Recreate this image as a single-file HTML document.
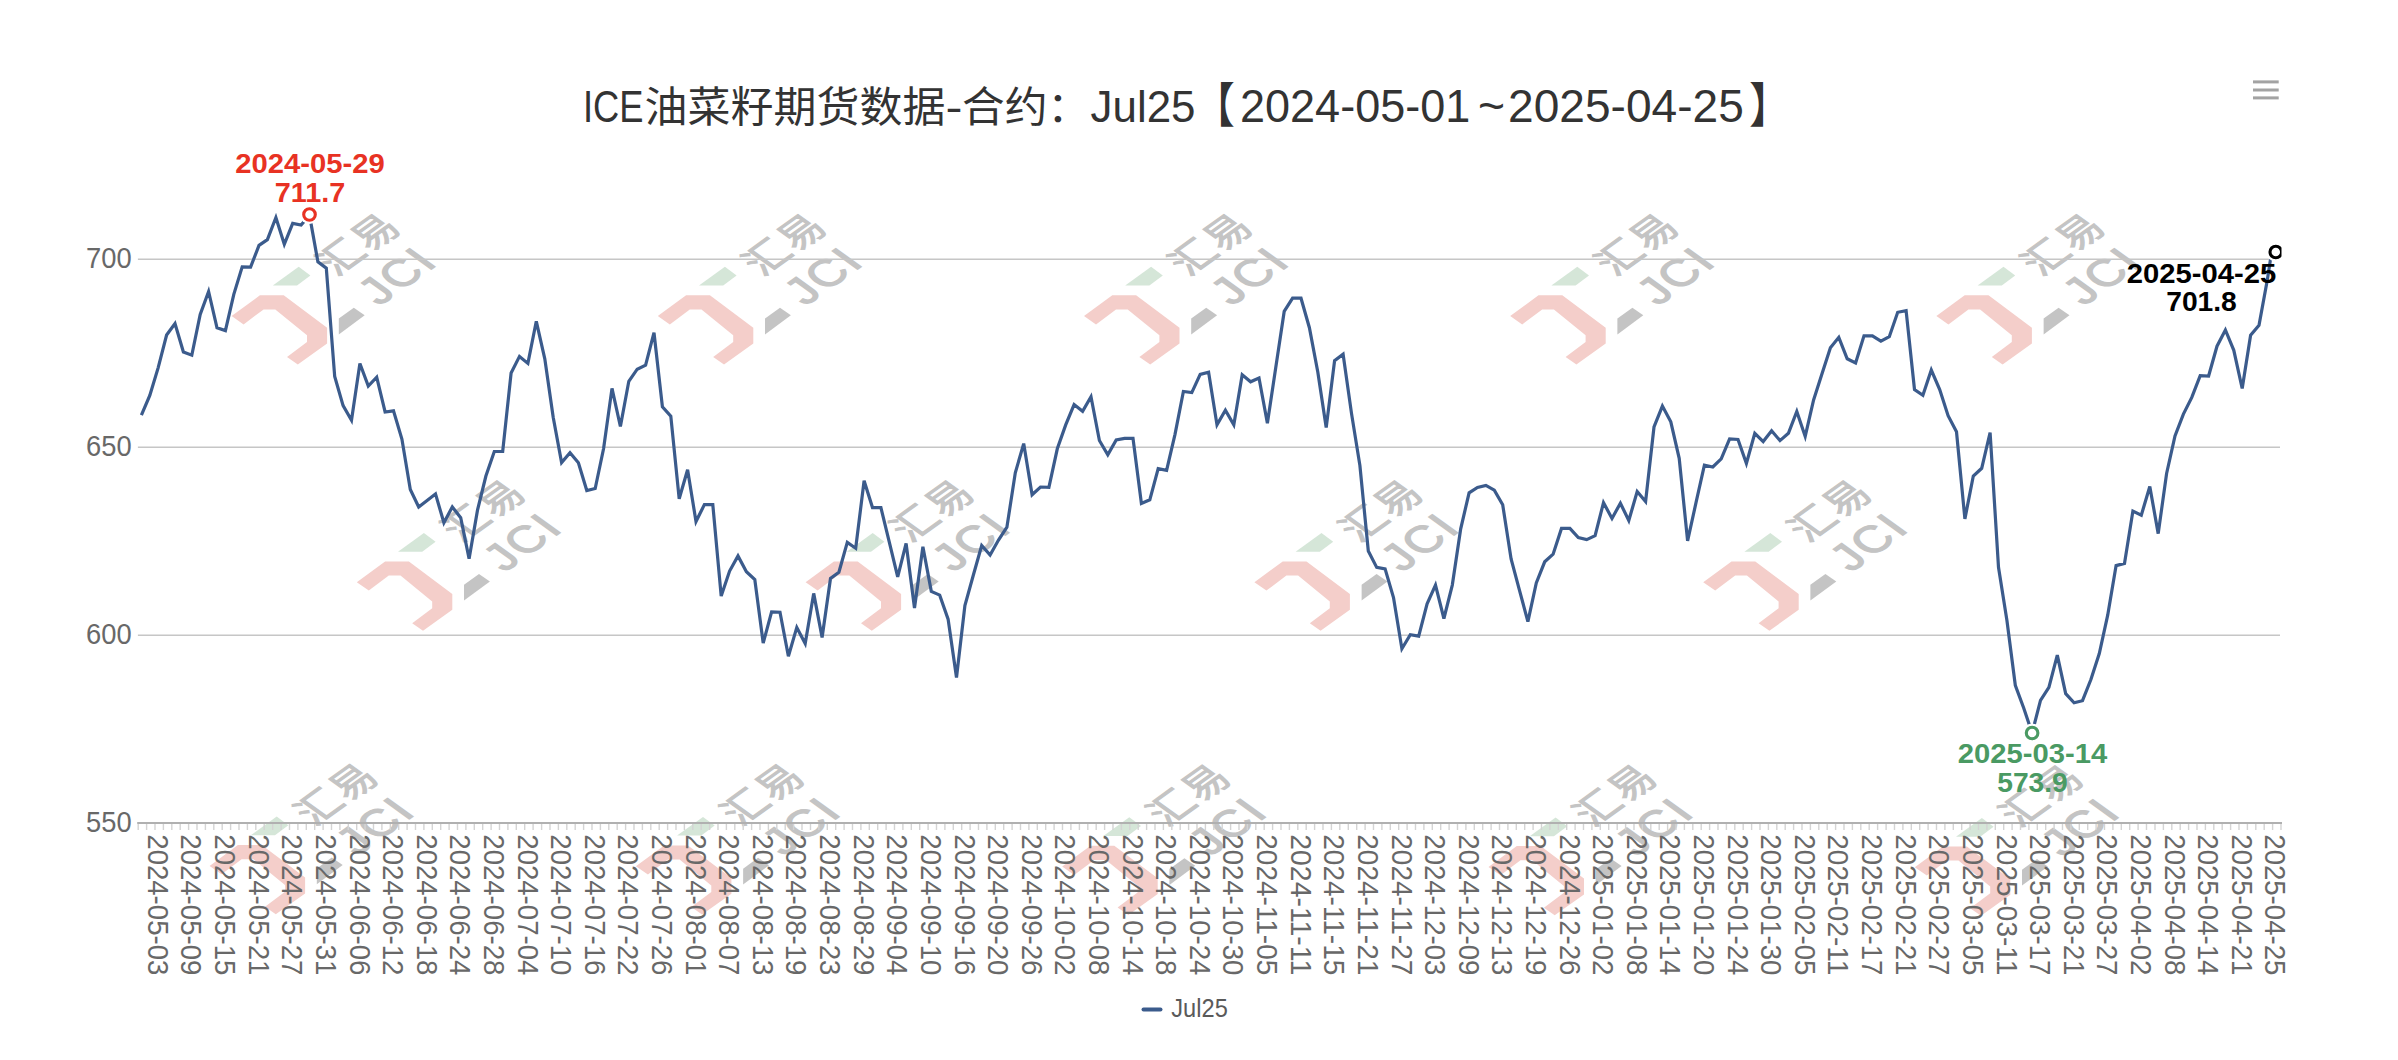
<!DOCTYPE html>
<html lang="zh"><head><meta charset="utf-8"><title>ICE油菜籽期货数据</title>
<style>html,body{margin:0;padding:0;background:#fff;}body{width:2398px;height:1060px;overflow:hidden;}svg{display:block;}text{font-family:"Liberation Sans","Noto Sans CJK SC",sans-serif;}.ax{font-size:29px;fill:#686868;}.dl{font-size:28.4px;font-weight:bold;}.wm{font-family:"Liberation Sans","Noto Sans CJK SC",sans-serif;fill:#c4c4c4;}</style></head><body>
<svg width="2398" height="1060" viewBox="0 0 2398 1060">
<rect x="0" y="0" width="2398" height="1060" fill="#ffffff"/>
<g id="watermarks">
<g transform="translate(232.0,316.0)"><polygon points="-0.4,0.1 27.9,-20.7 51.7,-20.7 95.1,11.8 95.1,27.6 65.8,48.5 55.0,41.0 75.0,26.0 75.0,19.3 43.3,-6.6 31.6,-6.6 11.6,8.4" fill="#f4ceca"/><polygon points="40.8,-30.5 66.7,-49.2 78.4,-40.5 65.0,-30.5" fill="#d5e6d8"/><polygon points="106.8,2.6 121.8,-8.3 132.7,-0.8 106.8,18.4" fill="#c4c4c4"/><text class="wm" font-size="46" text-anchor="middle" stroke="#c4c4c4" stroke-width="1.2" transform="translate(127.1,-71.9) scale(1,0.72) rotate(-45)" x="0" y="16" letter-spacing="2.5">汇易</text><text class="wm" font-size="52" stroke="#c4c4c4" stroke-width="1.6" text-anchor="middle" transform="translate(164.6,-40.7) scale(1,0.72) rotate(-45)" x="0" y="18.6" letter-spacing="2.5">JCI</text></g>
<g transform="translate(658.2,316.0)"><polygon points="-0.4,0.1 27.9,-20.7 51.7,-20.7 95.1,11.8 95.1,27.6 65.8,48.5 55.0,41.0 75.0,26.0 75.0,19.3 43.3,-6.6 31.6,-6.6 11.6,8.4" fill="#f4ceca"/><polygon points="40.8,-30.5 66.7,-49.2 78.4,-40.5 65.0,-30.5" fill="#d5e6d8"/><polygon points="106.8,2.6 121.8,-8.3 132.7,-0.8 106.8,18.4" fill="#c4c4c4"/><text class="wm" font-size="46" text-anchor="middle" stroke="#c4c4c4" stroke-width="1.2" transform="translate(127.1,-71.9) scale(1,0.72) rotate(-45)" x="0" y="16" letter-spacing="2.5">汇易</text><text class="wm" font-size="52" stroke="#c4c4c4" stroke-width="1.6" text-anchor="middle" transform="translate(164.6,-40.7) scale(1,0.72) rotate(-45)" x="0" y="18.6" letter-spacing="2.5">JCI</text></g>
<g transform="translate(1084.4,316.0)"><polygon points="-0.4,0.1 27.9,-20.7 51.7,-20.7 95.1,11.8 95.1,27.6 65.8,48.5 55.0,41.0 75.0,26.0 75.0,19.3 43.3,-6.6 31.6,-6.6 11.6,8.4" fill="#f4ceca"/><polygon points="40.8,-30.5 66.7,-49.2 78.4,-40.5 65.0,-30.5" fill="#d5e6d8"/><polygon points="106.8,2.6 121.8,-8.3 132.7,-0.8 106.8,18.4" fill="#c4c4c4"/><text class="wm" font-size="46" text-anchor="middle" stroke="#c4c4c4" stroke-width="1.2" transform="translate(127.1,-71.9) scale(1,0.72) rotate(-45)" x="0" y="16" letter-spacing="2.5">汇易</text><text class="wm" font-size="52" stroke="#c4c4c4" stroke-width="1.6" text-anchor="middle" transform="translate(164.6,-40.7) scale(1,0.72) rotate(-45)" x="0" y="18.6" letter-spacing="2.5">JCI</text></g>
<g transform="translate(1510.6,316.0)"><polygon points="-0.4,0.1 27.9,-20.7 51.7,-20.7 95.1,11.8 95.1,27.6 65.8,48.5 55.0,41.0 75.0,26.0 75.0,19.3 43.3,-6.6 31.6,-6.6 11.6,8.4" fill="#f4ceca"/><polygon points="40.8,-30.5 66.7,-49.2 78.4,-40.5 65.0,-30.5" fill="#d5e6d8"/><polygon points="106.8,2.6 121.8,-8.3 132.7,-0.8 106.8,18.4" fill="#c4c4c4"/><text class="wm" font-size="46" text-anchor="middle" stroke="#c4c4c4" stroke-width="1.2" transform="translate(127.1,-71.9) scale(1,0.72) rotate(-45)" x="0" y="16" letter-spacing="2.5">汇易</text><text class="wm" font-size="52" stroke="#c4c4c4" stroke-width="1.6" text-anchor="middle" transform="translate(164.6,-40.7) scale(1,0.72) rotate(-45)" x="0" y="18.6" letter-spacing="2.5">JCI</text></g>
<g transform="translate(1936.8,316.0)"><polygon points="-0.4,0.1 27.9,-20.7 51.7,-20.7 95.1,11.8 95.1,27.6 65.8,48.5 55.0,41.0 75.0,26.0 75.0,19.3 43.3,-6.6 31.6,-6.6 11.6,8.4" fill="#f4ceca"/><polygon points="40.8,-30.5 66.7,-49.2 78.4,-40.5 65.0,-30.5" fill="#d5e6d8"/><polygon points="106.8,2.6 121.8,-8.3 132.7,-0.8 106.8,18.4" fill="#c4c4c4"/><text class="wm" font-size="46" text-anchor="middle" stroke="#c4c4c4" stroke-width="1.2" transform="translate(127.1,-71.9) scale(1,0.72) rotate(-45)" x="0" y="16" letter-spacing="2.5">汇易</text><text class="wm" font-size="52" stroke="#c4c4c4" stroke-width="1.6" text-anchor="middle" transform="translate(164.6,-40.7) scale(1,0.72) rotate(-45)" x="0" y="18.6" letter-spacing="2.5">JCI</text></g>
<g transform="translate(357.2,582.2)"><polygon points="-0.4,0.1 27.9,-20.7 51.7,-20.7 95.1,11.8 95.1,27.6 65.8,48.5 55.0,41.0 75.0,26.0 75.0,19.3 43.3,-6.6 31.6,-6.6 11.6,8.4" fill="#f4ceca"/><polygon points="40.8,-30.5 66.7,-49.2 78.4,-40.5 65.0,-30.5" fill="#d5e6d8"/><polygon points="106.8,2.6 121.8,-8.3 132.7,-0.8 106.8,18.4" fill="#c4c4c4"/><text class="wm" font-size="46" text-anchor="middle" stroke="#c4c4c4" stroke-width="1.2" transform="translate(127.1,-71.9) scale(1,0.72) rotate(-45)" x="0" y="16" letter-spacing="2.5">汇易</text><text class="wm" font-size="52" stroke="#c4c4c4" stroke-width="1.6" text-anchor="middle" transform="translate(164.6,-40.7) scale(1,0.72) rotate(-45)" x="0" y="18.6" letter-spacing="2.5">JCI</text></g>
<g transform="translate(806.0,582.2)"><polygon points="-0.4,0.1 27.9,-20.7 51.7,-20.7 95.1,11.8 95.1,27.6 65.8,48.5 55.0,41.0 75.0,26.0 75.0,19.3 43.3,-6.6 31.6,-6.6 11.6,8.4" fill="#f4ceca"/><polygon points="40.8,-30.5 66.7,-49.2 78.4,-40.5 65.0,-30.5" fill="#d5e6d8"/><polygon points="106.8,2.6 121.8,-8.3 132.7,-0.8 106.8,18.4" fill="#c4c4c4"/><text class="wm" font-size="46" text-anchor="middle" stroke="#c4c4c4" stroke-width="1.2" transform="translate(127.1,-71.9) scale(1,0.72) rotate(-45)" x="0" y="16" letter-spacing="2.5">汇易</text><text class="wm" font-size="52" stroke="#c4c4c4" stroke-width="1.6" text-anchor="middle" transform="translate(164.6,-40.7) scale(1,0.72) rotate(-45)" x="0" y="18.6" letter-spacing="2.5">JCI</text></g>
<g transform="translate(1254.8,582.2)"><polygon points="-0.4,0.1 27.9,-20.7 51.7,-20.7 95.1,11.8 95.1,27.6 65.8,48.5 55.0,41.0 75.0,26.0 75.0,19.3 43.3,-6.6 31.6,-6.6 11.6,8.4" fill="#f4ceca"/><polygon points="40.8,-30.5 66.7,-49.2 78.4,-40.5 65.0,-30.5" fill="#d5e6d8"/><polygon points="106.8,2.6 121.8,-8.3 132.7,-0.8 106.8,18.4" fill="#c4c4c4"/><text class="wm" font-size="46" text-anchor="middle" stroke="#c4c4c4" stroke-width="1.2" transform="translate(127.1,-71.9) scale(1,0.72) rotate(-45)" x="0" y="16" letter-spacing="2.5">汇易</text><text class="wm" font-size="52" stroke="#c4c4c4" stroke-width="1.6" text-anchor="middle" transform="translate(164.6,-40.7) scale(1,0.72) rotate(-45)" x="0" y="18.6" letter-spacing="2.5">JCI</text></g>
<g transform="translate(1703.6,582.2)"><polygon points="-0.4,0.1 27.9,-20.7 51.7,-20.7 95.1,11.8 95.1,27.6 65.8,48.5 55.0,41.0 75.0,26.0 75.0,19.3 43.3,-6.6 31.6,-6.6 11.6,8.4" fill="#f4ceca"/><polygon points="40.8,-30.5 66.7,-49.2 78.4,-40.5 65.0,-30.5" fill="#d5e6d8"/><polygon points="106.8,2.6 121.8,-8.3 132.7,-0.8 106.8,18.4" fill="#c4c4c4"/><text class="wm" font-size="46" text-anchor="middle" stroke="#c4c4c4" stroke-width="1.2" transform="translate(127.1,-71.9) scale(1,0.72) rotate(-45)" x="0" y="16" letter-spacing="2.5">汇易</text><text class="wm" font-size="52" stroke="#c4c4c4" stroke-width="1.6" text-anchor="middle" transform="translate(164.6,-40.7) scale(1,0.72) rotate(-45)" x="0" y="18.6" letter-spacing="2.5">JCI</text></g>
<g transform="translate(210.0,865.8)"><polygon points="-0.4,0.1 27.9,-20.7 51.7,-20.7 95.1,11.8 95.1,27.6 65.8,48.5 55.0,41.0 75.0,26.0 75.0,19.3 43.3,-6.6 31.6,-6.6 11.6,8.4" fill="#f4ceca"/><polygon points="40.8,-30.5 66.7,-49.2 78.4,-40.5 65.0,-30.5" fill="#d5e6d8"/><polygon points="106.8,2.6 121.8,-8.3 132.7,-0.8 106.8,18.4" fill="#c4c4c4"/><text class="wm" font-size="46" text-anchor="middle" stroke="#c4c4c4" stroke-width="1.2" transform="translate(127.1,-71.9) scale(1,0.72) rotate(-45)" x="0" y="16" letter-spacing="2.5">汇易</text><text class="wm" font-size="52" stroke="#c4c4c4" stroke-width="1.6" text-anchor="middle" transform="translate(164.6,-40.7) scale(1,0.72) rotate(-45)" x="0" y="18.6" letter-spacing="2.5">JCI</text></g>
<g transform="translate(636.3,866.1)"><polygon points="-0.4,0.1 27.9,-20.7 51.7,-20.7 95.1,11.8 95.1,27.6 65.8,48.5 55.0,41.0 75.0,26.0 75.0,19.3 43.3,-6.6 31.6,-6.6 11.6,8.4" fill="#f4ceca"/><polygon points="40.8,-30.5 66.7,-49.2 78.4,-40.5 65.0,-30.5" fill="#d5e6d8"/><polygon points="106.8,2.6 121.8,-8.3 132.7,-0.8 106.8,18.4" fill="#c4c4c4"/><text class="wm" font-size="46" text-anchor="middle" stroke="#c4c4c4" stroke-width="1.2" transform="translate(127.1,-71.9) scale(1,0.72) rotate(-45)" x="0" y="16" letter-spacing="2.5">汇易</text><text class="wm" font-size="52" stroke="#c4c4c4" stroke-width="1.6" text-anchor="middle" transform="translate(164.6,-40.7) scale(1,0.72) rotate(-45)" x="0" y="18.6" letter-spacing="2.5">JCI</text></g>
<g transform="translate(1062.6,866.5)"><polygon points="-0.4,0.1 27.9,-20.7 51.7,-20.7 95.1,11.8 95.1,27.6 65.8,48.5 55.0,41.0 75.0,26.0 75.0,19.3 43.3,-6.6 31.6,-6.6 11.6,8.4" fill="#f4ceca"/><polygon points="40.8,-30.5 66.7,-49.2 78.4,-40.5 65.0,-30.5" fill="#d5e6d8"/><polygon points="106.8,2.6 121.8,-8.3 132.7,-0.8 106.8,18.4" fill="#c4c4c4"/><text class="wm" font-size="46" text-anchor="middle" stroke="#c4c4c4" stroke-width="1.2" transform="translate(127.1,-71.9) scale(1,0.72) rotate(-45)" x="0" y="16" letter-spacing="2.5">汇易</text><text class="wm" font-size="52" stroke="#c4c4c4" stroke-width="1.6" text-anchor="middle" transform="translate(164.6,-40.7) scale(1,0.72) rotate(-45)" x="0" y="18.6" letter-spacing="2.5">JCI</text></g>
<g transform="translate(1488.9,866.8)"><polygon points="-0.4,0.1 27.9,-20.7 51.7,-20.7 95.1,11.8 95.1,27.6 65.8,48.5 55.0,41.0 75.0,26.0 75.0,19.3 43.3,-6.6 31.6,-6.6 11.6,8.4" fill="#f4ceca"/><polygon points="40.8,-30.5 66.7,-49.2 78.4,-40.5 65.0,-30.5" fill="#d5e6d8"/><polygon points="106.8,2.6 121.8,-8.3 132.7,-0.8 106.8,18.4" fill="#c4c4c4"/><text class="wm" font-size="46" text-anchor="middle" stroke="#c4c4c4" stroke-width="1.2" transform="translate(127.1,-71.9) scale(1,0.72) rotate(-45)" x="0" y="16" letter-spacing="2.5">汇易</text><text class="wm" font-size="52" stroke="#c4c4c4" stroke-width="1.6" text-anchor="middle" transform="translate(164.6,-40.7) scale(1,0.72) rotate(-45)" x="0" y="18.6" letter-spacing="2.5">JCI</text></g>
<g transform="translate(1915.2,867.2)"><polygon points="-0.4,0.1 27.9,-20.7 51.7,-20.7 95.1,11.8 95.1,27.6 65.8,48.5 55.0,41.0 75.0,26.0 75.0,19.3 43.3,-6.6 31.6,-6.6 11.6,8.4" fill="#f4ceca"/><polygon points="40.8,-30.5 66.7,-49.2 78.4,-40.5 65.0,-30.5" fill="#d5e6d8"/><polygon points="106.8,2.6 121.8,-8.3 132.7,-0.8 106.8,18.4" fill="#c4c4c4"/><text class="wm" font-size="46" text-anchor="middle" stroke="#c4c4c4" stroke-width="1.2" transform="translate(127.1,-71.9) scale(1,0.72) rotate(-45)" x="0" y="16" letter-spacing="2.5">汇易</text><text class="wm" font-size="52" stroke="#c4c4c4" stroke-width="1.6" text-anchor="middle" transform="translate(164.6,-40.7) scale(1,0.72) rotate(-45)" x="0" y="18.6" letter-spacing="2.5">JCI</text></g>
</g>
<g stroke="#c6c6c6" stroke-width="1.5" fill="none">
<line x1="137.89999999999998" y1="259.2" x2="2280.0" y2="259.2"/>
<line x1="137.89999999999998" y1="447.2" x2="2280.0" y2="447.2"/>
<line x1="137.89999999999998" y1="635.2" x2="2280.0" y2="635.2"/>
</g>
<line x1="137.2" y1="823.0" x2="2282.0" y2="823.0" stroke="#b0b0b0" stroke-width="2"/>
<path d="M138.2 824.0v6M146.6 824.0v6M155.0 824.0v6M163.4 824.0v6M171.8 824.0v6M180.2 824.0v6M188.6 824.0v6M197.0 824.0v6M205.4 824.0v6M213.8 824.0v6M222.2 824.0v6M230.6 824.0v6M239.0 824.0v6M247.4 824.0v6M255.8 824.0v6M264.2 824.0v6M272.7 824.0v6M281.1 824.0v6M289.5 824.0v6M297.9 824.0v6M306.3 824.0v6M314.7 824.0v6M323.1 824.0v6M331.5 824.0v6M339.9 824.0v6M348.3 824.0v6M356.7 824.0v6M365.1 824.0v6M373.5 824.0v6M381.9 824.0v6M390.3 824.0v6M398.7 824.0v6M407.1 824.0v6M415.5 824.0v6M423.9 824.0v6M432.3 824.0v6M440.7 824.0v6M449.1 824.0v6M457.5 824.0v6M465.9 824.0v6M474.3 824.0v6M482.7 824.0v6M491.1 824.0v6M499.5 824.0v6M507.9 824.0v6M516.3 824.0v6M524.7 824.0v6M533.1 824.0v6M541.6 824.0v6M550.0 824.0v6M558.4 824.0v6M566.8 824.0v6M575.2 824.0v6M583.6 824.0v6M592.0 824.0v6M600.4 824.0v6M608.8 824.0v6M617.2 824.0v6M625.6 824.0v6M634.0 824.0v6M642.4 824.0v6M650.8 824.0v6M659.2 824.0v6M667.6 824.0v6M676.0 824.0v6M684.4 824.0v6M692.8 824.0v6M701.2 824.0v6M709.6 824.0v6M718.0 824.0v6M726.4 824.0v6M734.8 824.0v6M743.2 824.0v6M751.6 824.0v6M760.0 824.0v6M768.4 824.0v6M776.8 824.0v6M785.2 824.0v6M793.6 824.0v6M802.0 824.0v6M810.5 824.0v6M818.9 824.0v6M827.3 824.0v6M835.7 824.0v6M844.1 824.0v6M852.5 824.0v6M860.9 824.0v6M869.3 824.0v6M877.7 824.0v6M886.1 824.0v6M894.5 824.0v6M902.9 824.0v6M911.3 824.0v6M919.7 824.0v6M928.1 824.0v6M936.5 824.0v6M944.9 824.0v6M953.3 824.0v6M961.7 824.0v6M970.1 824.0v6M978.5 824.0v6M986.9 824.0v6M995.3 824.0v6M1003.7 824.0v6M1012.1 824.0v6M1020.5 824.0v6M1028.9 824.0v6M1037.3 824.0v6M1045.7 824.0v6M1054.1 824.0v6M1062.5 824.0v6M1070.9 824.0v6M1079.4 824.0v6M1087.8 824.0v6M1096.2 824.0v6M1104.6 824.0v6M1113.0 824.0v6M1121.4 824.0v6M1129.8 824.0v6M1138.2 824.0v6M1146.6 824.0v6M1155.0 824.0v6M1163.4 824.0v6M1171.8 824.0v6M1180.2 824.0v6M1188.6 824.0v6M1197.0 824.0v6M1205.4 824.0v6M1213.8 824.0v6M1222.2 824.0v6M1230.6 824.0v6M1239.0 824.0v6M1247.4 824.0v6M1255.8 824.0v6M1264.2 824.0v6M1272.6 824.0v6M1281.0 824.0v6M1289.4 824.0v6M1297.8 824.0v6M1306.2 824.0v6M1314.6 824.0v6M1323.0 824.0v6M1331.4 824.0v6M1339.8 824.0v6M1348.3 824.0v6M1356.7 824.0v6M1365.1 824.0v6M1373.5 824.0v6M1381.9 824.0v6M1390.3 824.0v6M1398.7 824.0v6M1407.1 824.0v6M1415.5 824.0v6M1423.9 824.0v6M1432.3 824.0v6M1440.7 824.0v6M1449.1 824.0v6M1457.5 824.0v6M1465.9 824.0v6M1474.3 824.0v6M1482.7 824.0v6M1491.1 824.0v6M1499.5 824.0v6M1507.9 824.0v6M1516.3 824.0v6M1524.7 824.0v6M1533.1 824.0v6M1541.5 824.0v6M1549.9 824.0v6M1558.3 824.0v6M1566.7 824.0v6M1575.1 824.0v6M1583.5 824.0v6M1591.9 824.0v6M1600.3 824.0v6M1608.7 824.0v6M1617.2 824.0v6M1625.6 824.0v6M1634.0 824.0v6M1642.4 824.0v6M1650.8 824.0v6M1659.2 824.0v6M1667.6 824.0v6M1676.0 824.0v6M1684.4 824.0v6M1692.8 824.0v6M1701.2 824.0v6M1709.6 824.0v6M1718.0 824.0v6M1726.4 824.0v6M1734.8 824.0v6M1743.2 824.0v6M1751.6 824.0v6M1760.0 824.0v6M1768.4 824.0v6M1776.8 824.0v6M1785.2 824.0v6M1793.6 824.0v6M1802.0 824.0v6M1810.4 824.0v6M1818.8 824.0v6M1827.2 824.0v6M1835.6 824.0v6M1844.0 824.0v6M1852.4 824.0v6M1860.8 824.0v6M1869.2 824.0v6M1877.6 824.0v6M1886.1 824.0v6M1894.5 824.0v6M1902.9 824.0v6M1911.3 824.0v6M1919.7 824.0v6M1928.1 824.0v6M1936.5 824.0v6M1944.9 824.0v6M1953.3 824.0v6M1961.7 824.0v6M1970.1 824.0v6M1978.5 824.0v6M1986.9 824.0v6M1995.3 824.0v6M2003.7 824.0v6M2012.1 824.0v6M2020.5 824.0v6M2028.9 824.0v6M2037.3 824.0v6M2045.7 824.0v6M2054.1 824.0v6M2062.5 824.0v6M2070.9 824.0v6M2079.3 824.0v6M2087.7 824.0v6M2096.1 824.0v6M2104.5 824.0v6M2112.9 824.0v6M2121.3 824.0v6M2129.7 824.0v6M2138.1 824.0v6M2146.5 824.0v6M2155.0 824.0v6M2163.4 824.0v6M2171.8 824.0v6M2180.2 824.0v6M2188.6 824.0v6M2197.0 824.0v6M2205.4 824.0v6M2213.8 824.0v6M2222.2 824.0v6M2230.6 824.0v6M2239.0 824.0v6M2247.4 824.0v6M2255.8 824.0v6M2264.2 824.0v6M2272.6 824.0v6M2281.0 824.0v6" stroke="#d4d4d4" stroke-width="1.4" fill="none"/>
<text class="ax" x="131.6" y="268.2" text-anchor="end" textLength="45.6" lengthAdjust="spacingAndGlyphs">700</text>
<text class="ax" x="131.6" y="456.2" text-anchor="end" textLength="45.6" lengthAdjust="spacingAndGlyphs">650</text>
<text class="ax" x="131.6" y="644.2" text-anchor="end" textLength="45.6" lengthAdjust="spacingAndGlyphs">600</text>
<text class="ax" x="131.6" y="832.0" text-anchor="end" textLength="45.6" lengthAdjust="spacingAndGlyphs">550</text>
<path d="M141.4 415.2 L149.8 395.5 L158.2 367.6 L166.6 335.0 L175.0 323.5 L183.4 352.0 L191.8 355.2 L200.2 314.5 L208.6 291.5 L217.0 327.8 L225.4 330.6 L233.8 294.4 L242.2 266.8 L250.6 267.1 L259.0 245.4 L267.4 239.6 L275.9 217.5 L284.3 244.3 L292.7 223.4 L301.1 225.0 L309.5 215.2 L317.9 261.8 L326.3 268.1 L334.7 376.5 L343.1 405.6 L351.5 420.2 L359.9 363.5 L368.3 386.0 L376.7 377.2 L385.1 412.0 L393.5 410.8 L401.9 439.0 L410.3 489.4 L418.7 506.9 L427.1 500.4 L435.5 493.9 L443.9 522.8 L452.3 506.9 L460.7 517.7 L469.1 558.7 L477.5 510.2 L485.9 476.0 L494.3 451.5 L502.7 451.5 L511.1 373.0 L519.5 356.4 L527.9 363.4 L536.3 321.3 L544.8 358.8 L553.2 417.2 L561.6 462.6 L570.0 452.8 L578.4 462.8 L586.8 490.5 L595.2 488.5 L603.6 448.5 L612.0 388.4 L620.4 426.5 L628.8 381.3 L637.2 369.2 L645.6 365.1 L654.0 332.7 L662.4 406.8 L670.8 416.2 L679.2 498.8 L687.6 469.8 L696.0 521.5 L704.4 504.6 L712.8 504.6 L721.2 596.1 L729.6 571.1 L738.0 555.9 L746.4 571.7 L754.8 579.5 L763.2 643.1 L771.6 611.8 L780.0 612.2 L788.4 656.2 L796.8 627.4 L805.2 643.5 L813.7 593.4 L822.1 637.4 L830.5 578.4 L838.9 572.2 L847.3 542.4 L855.7 548.2 L864.1 480.8 L872.5 507.6 L880.9 507.6 L889.3 542.1 L897.7 576.8 L906.1 543.4 L914.5 608.0 L922.9 546.7 L931.3 591.4 L939.7 595.1 L948.1 619.1 L956.5 677.5 L964.9 605.5 L973.3 575.3 L981.7 545.5 L990.1 555.1 L998.5 540.0 L1006.9 527.2 L1015.3 472.8 L1023.7 443.6 L1032.1 494.7 L1040.5 487.0 L1048.9 487.3 L1057.3 448.8 L1065.7 424.9 L1074.1 404.6 L1082.6 411.3 L1091.0 396.7 L1099.4 440.5 L1107.8 454.7 L1116.2 439.9 L1124.6 438.4 L1133.0 438.4 L1141.4 503.5 L1149.8 499.8 L1158.2 468.7 L1166.6 470.3 L1175.0 434.3 L1183.4 391.5 L1191.8 392.6 L1200.2 374.4 L1208.6 372.3 L1217.0 424.9 L1225.4 410.3 L1233.8 424.9 L1242.2 374.8 L1250.6 381.8 L1259.0 378.0 L1267.4 423.2 L1275.8 367.3 L1284.2 311.4 L1292.6 298.2 L1301.0 298.2 L1309.4 327.7 L1317.8 372.0 L1326.2 427.6 L1334.6 360.6 L1343.1 354.2 L1351.5 413.4 L1359.9 465.5 L1368.3 551.0 L1376.7 567.4 L1385.1 568.8 L1393.5 597.6 L1401.9 648.7 L1410.3 634.7 L1418.7 636.2 L1427.1 603.9 L1435.5 585.1 L1443.9 618.5 L1452.3 585.1 L1460.7 528.8 L1469.1 492.8 L1477.5 487.5 L1485.9 485.4 L1494.3 490.2 L1502.7 504.8 L1511.1 559.0 L1519.5 590.3 L1527.9 621.6 L1536.3 583.0 L1544.7 561.8 L1553.1 554.2 L1561.5 528.4 L1569.9 528.4 L1578.3 537.6 L1586.7 539.6 L1595.1 535.7 L1603.5 502.7 L1612.0 518.4 L1620.4 503.2 L1628.8 520.5 L1637.2 491.5 L1645.6 501.5 L1654.0 427.0 L1662.4 406.1 L1670.8 421.8 L1679.2 458.3 L1687.6 540.9 L1696.0 502.7 L1704.4 465.2 L1712.8 467.0 L1721.2 458.9 L1729.6 438.9 L1738.0 439.5 L1746.4 463.5 L1754.8 433.3 L1763.2 441.6 L1771.6 430.8 L1780.0 440.6 L1788.4 433.3 L1796.8 411.4 L1805.2 436.4 L1813.6 399.9 L1822.0 373.8 L1830.4 347.8 L1838.8 337.3 L1847.2 358.8 L1855.6 363.0 L1864.0 335.9 L1872.4 335.9 L1880.9 341.1 L1889.3 336.7 L1897.7 312.3 L1906.1 310.7 L1914.5 389.5 L1922.9 395.3 L1931.3 370.1 L1939.7 389.5 L1948.1 415.7 L1956.5 431.8 L1964.9 518.9 L1973.3 476.0 L1981.7 468.3 L1990.1 432.5 L1998.5 567.3 L2006.9 620.2 L2015.3 685.3 L2023.7 708.0 L2032.1 733.1 L2040.5 700.3 L2048.9 687.3 L2057.3 655.2 L2065.7 693.7 L2074.1 702.8 L2082.5 700.7 L2090.9 679.5 L2099.3 653.6 L2107.7 615.2 L2116.1 565.6 L2124.5 563.4 L2132.9 511.1 L2141.3 515.2 L2149.8 486.5 L2158.2 533.6 L2166.6 473.5 L2175.0 435.9 L2183.4 414.1 L2191.8 397.4 L2200.2 375.6 L2208.6 376.0 L2217.0 346.2 L2225.4 330.0 L2233.8 350.3 L2242.2 388.5 L2250.6 335.2 L2259.0 325.4 L2267.4 279.5 L2270.3 260.5 L2275.8 252.4" fill="none" stroke="#3b5b8c" stroke-width="3.2" stroke-linejoin="miter" stroke-linecap="butt"/>
<clipPath id="plotclip"><rect x="130" y="190" width="2151.5" height="640"/></clipPath><g clip-path="url(#plotclip)">
<circle cx="309.5" cy="214.5" r="9.6" fill="#fff"/><circle cx="309.5" cy="214.5" r="5.8" fill="#fff" stroke="#e83223" stroke-width="3.1"/>
<circle cx="2032.1" cy="733.0" r="9.6" fill="#fff"/><circle cx="2032.1" cy="733.0" r="5.8" fill="#fff" stroke="#4a9a63" stroke-width="3.1"/>
<circle cx="2275.8" cy="252.0" r="9.6" fill="#fff"/><circle cx="2275.8" cy="252.0" r="5.8" fill="#fff" stroke="#000" stroke-width="3.1"/>
</g>
<text class="dl" fill="#e83223" x="310" y="173.1" text-anchor="middle" textLength="149.5" lengthAdjust="spacingAndGlyphs">2024-05-29</text><text class="dl" fill="#e83223" x="310" y="202.2" text-anchor="middle" textLength="70.6" lengthAdjust="spacingAndGlyphs">711.7</text>
<text class="dl" fill="#4a9a63" x="2032.5" y="763.1" text-anchor="middle" textLength="149.5" lengthAdjust="spacingAndGlyphs">2025-03-14</text><text class="dl" fill="#4a9a63" x="2032.5" y="791.9" text-anchor="middle" textLength="70.6" lengthAdjust="spacingAndGlyphs">573.9</text>
<text class="dl" fill="#000" x="2201.5" y="283.1" text-anchor="middle" textLength="149.5" lengthAdjust="spacingAndGlyphs">2025-04-25</text><text class="dl" fill="#000" x="2201.5" y="311.1" text-anchor="middle" textLength="70.6" lengthAdjust="spacingAndGlyphs">701.8</text>
<text class="ax" font-size="29" style="font-size:29px" transform="translate(147.8,834.3) rotate(90)" textLength="141" lengthAdjust="spacingAndGlyphs">2024-05-03</text>
<text class="ax" font-size="29" style="font-size:29px" transform="translate(181.4,834.3) rotate(90)" textLength="141" lengthAdjust="spacingAndGlyphs">2024-05-09</text>
<text class="ax" font-size="29" style="font-size:29px" transform="translate(215.0,834.3) rotate(90)" textLength="141" lengthAdjust="spacingAndGlyphs">2024-05-15</text>
<text class="ax" font-size="29" style="font-size:29px" transform="translate(248.6,834.3) rotate(90)" textLength="141" lengthAdjust="spacingAndGlyphs">2024-05-21</text>
<text class="ax" font-size="29" style="font-size:29px" transform="translate(282.3,834.3) rotate(90)" textLength="141" lengthAdjust="spacingAndGlyphs">2024-05-27</text>
<text class="ax" font-size="29" style="font-size:29px" transform="translate(315.9,834.3) rotate(90)" textLength="141" lengthAdjust="spacingAndGlyphs">2024-05-31</text>
<text class="ax" font-size="29" style="font-size:29px" transform="translate(349.5,834.3) rotate(90)" textLength="141" lengthAdjust="spacingAndGlyphs">2024-06-06</text>
<text class="ax" font-size="29" style="font-size:29px" transform="translate(383.1,834.3) rotate(90)" textLength="141" lengthAdjust="spacingAndGlyphs">2024-06-12</text>
<text class="ax" font-size="29" style="font-size:29px" transform="translate(416.7,834.3) rotate(90)" textLength="141" lengthAdjust="spacingAndGlyphs">2024-06-18</text>
<text class="ax" font-size="29" style="font-size:29px" transform="translate(450.3,834.3) rotate(90)" textLength="141" lengthAdjust="spacingAndGlyphs">2024-06-24</text>
<text class="ax" font-size="29" style="font-size:29px" transform="translate(483.9,834.3) rotate(90)" textLength="141" lengthAdjust="spacingAndGlyphs">2024-06-28</text>
<text class="ax" font-size="29" style="font-size:29px" transform="translate(517.5,834.3) rotate(90)" textLength="141" lengthAdjust="spacingAndGlyphs">2024-07-04</text>
<text class="ax" font-size="29" style="font-size:29px" transform="translate(551.2,834.3) rotate(90)" textLength="141" lengthAdjust="spacingAndGlyphs">2024-07-10</text>
<text class="ax" font-size="29" style="font-size:29px" transform="translate(584.8,834.3) rotate(90)" textLength="141" lengthAdjust="spacingAndGlyphs">2024-07-16</text>
<text class="ax" font-size="29" style="font-size:29px" transform="translate(618.4,834.3) rotate(90)" textLength="141" lengthAdjust="spacingAndGlyphs">2024-07-22</text>
<text class="ax" font-size="29" style="font-size:29px" transform="translate(652.0,834.3) rotate(90)" textLength="141" lengthAdjust="spacingAndGlyphs">2024-07-26</text>
<text class="ax" font-size="29" style="font-size:29px" transform="translate(685.6,834.3) rotate(90)" textLength="141" lengthAdjust="spacingAndGlyphs">2024-08-01</text>
<text class="ax" font-size="29" style="font-size:29px" transform="translate(719.2,834.3) rotate(90)" textLength="141" lengthAdjust="spacingAndGlyphs">2024-08-07</text>
<text class="ax" font-size="29" style="font-size:29px" transform="translate(752.8,834.3) rotate(90)" textLength="141" lengthAdjust="spacingAndGlyphs">2024-08-13</text>
<text class="ax" font-size="29" style="font-size:29px" transform="translate(786.4,834.3) rotate(90)" textLength="141" lengthAdjust="spacingAndGlyphs">2024-08-19</text>
<text class="ax" font-size="29" style="font-size:29px" transform="translate(820.1,834.3) rotate(90)" textLength="141" lengthAdjust="spacingAndGlyphs">2024-08-23</text>
<text class="ax" font-size="29" style="font-size:29px" transform="translate(853.7,834.3) rotate(90)" textLength="141" lengthAdjust="spacingAndGlyphs">2024-08-29</text>
<text class="ax" font-size="29" style="font-size:29px" transform="translate(887.3,834.3) rotate(90)" textLength="141" lengthAdjust="spacingAndGlyphs">2024-09-04</text>
<text class="ax" font-size="29" style="font-size:29px" transform="translate(920.9,834.3) rotate(90)" textLength="141" lengthAdjust="spacingAndGlyphs">2024-09-10</text>
<text class="ax" font-size="29" style="font-size:29px" transform="translate(954.5,834.3) rotate(90)" textLength="141" lengthAdjust="spacingAndGlyphs">2024-09-16</text>
<text class="ax" font-size="29" style="font-size:29px" transform="translate(988.1,834.3) rotate(90)" textLength="141" lengthAdjust="spacingAndGlyphs">2024-09-20</text>
<text class="ax" font-size="29" style="font-size:29px" transform="translate(1021.7,834.3) rotate(90)" textLength="141" lengthAdjust="spacingAndGlyphs">2024-09-26</text>
<text class="ax" font-size="29" style="font-size:29px" transform="translate(1055.3,834.3) rotate(90)" textLength="141" lengthAdjust="spacingAndGlyphs">2024-10-02</text>
<text class="ax" font-size="29" style="font-size:29px" transform="translate(1089.0,834.3) rotate(90)" textLength="141" lengthAdjust="spacingAndGlyphs">2024-10-08</text>
<text class="ax" font-size="29" style="font-size:29px" transform="translate(1122.6,834.3) rotate(90)" textLength="141" lengthAdjust="spacingAndGlyphs">2024-10-14</text>
<text class="ax" font-size="29" style="font-size:29px" transform="translate(1156.2,834.3) rotate(90)" textLength="141" lengthAdjust="spacingAndGlyphs">2024-10-18</text>
<text class="ax" font-size="29" style="font-size:29px" transform="translate(1189.8,834.3) rotate(90)" textLength="141" lengthAdjust="spacingAndGlyphs">2024-10-24</text>
<text class="ax" font-size="29" style="font-size:29px" transform="translate(1223.4,834.3) rotate(90)" textLength="141" lengthAdjust="spacingAndGlyphs">2024-10-30</text>
<text class="ax" font-size="29" style="font-size:29px" transform="translate(1257.0,834.3) rotate(90)" textLength="141" lengthAdjust="spacingAndGlyphs">2024-11-05</text>
<text class="ax" font-size="29" style="font-size:29px" transform="translate(1290.6,834.3) rotate(90)" textLength="141" lengthAdjust="spacingAndGlyphs">2024-11-11</text>
<text class="ax" font-size="29" style="font-size:29px" transform="translate(1324.2,834.3) rotate(90)" textLength="141" lengthAdjust="spacingAndGlyphs">2024-11-15</text>
<text class="ax" font-size="29" style="font-size:29px" transform="translate(1357.9,834.3) rotate(90)" textLength="141" lengthAdjust="spacingAndGlyphs">2024-11-21</text>
<text class="ax" font-size="29" style="font-size:29px" transform="translate(1391.5,834.3) rotate(90)" textLength="141" lengthAdjust="spacingAndGlyphs">2024-11-27</text>
<text class="ax" font-size="29" style="font-size:29px" transform="translate(1425.1,834.3) rotate(90)" textLength="141" lengthAdjust="spacingAndGlyphs">2024-12-03</text>
<text class="ax" font-size="29" style="font-size:29px" transform="translate(1458.7,834.3) rotate(90)" textLength="141" lengthAdjust="spacingAndGlyphs">2024-12-09</text>
<text class="ax" font-size="29" style="font-size:29px" transform="translate(1492.3,834.3) rotate(90)" textLength="141" lengthAdjust="spacingAndGlyphs">2024-12-13</text>
<text class="ax" font-size="29" style="font-size:29px" transform="translate(1525.9,834.3) rotate(90)" textLength="141" lengthAdjust="spacingAndGlyphs">2024-12-19</text>
<text class="ax" font-size="29" style="font-size:29px" transform="translate(1559.5,834.3) rotate(90)" textLength="141" lengthAdjust="spacingAndGlyphs">2024-12-26</text>
<text class="ax" font-size="29" style="font-size:29px" transform="translate(1593.1,834.3) rotate(90)" textLength="141" lengthAdjust="spacingAndGlyphs">2025-01-02</text>
<text class="ax" font-size="29" style="font-size:29px" transform="translate(1626.8,834.3) rotate(90)" textLength="141" lengthAdjust="spacingAndGlyphs">2025-01-08</text>
<text class="ax" font-size="29" style="font-size:29px" transform="translate(1660.4,834.3) rotate(90)" textLength="141" lengthAdjust="spacingAndGlyphs">2025-01-14</text>
<text class="ax" font-size="29" style="font-size:29px" transform="translate(1694.0,834.3) rotate(90)" textLength="141" lengthAdjust="spacingAndGlyphs">2025-01-20</text>
<text class="ax" font-size="29" style="font-size:29px" transform="translate(1727.6,834.3) rotate(90)" textLength="141" lengthAdjust="spacingAndGlyphs">2025-01-24</text>
<text class="ax" font-size="29" style="font-size:29px" transform="translate(1761.2,834.3) rotate(90)" textLength="141" lengthAdjust="spacingAndGlyphs">2025-01-30</text>
<text class="ax" font-size="29" style="font-size:29px" transform="translate(1794.8,834.3) rotate(90)" textLength="141" lengthAdjust="spacingAndGlyphs">2025-02-05</text>
<text class="ax" font-size="29" style="font-size:29px" transform="translate(1828.4,834.3) rotate(90)" textLength="141" lengthAdjust="spacingAndGlyphs">2025-02-11</text>
<text class="ax" font-size="29" style="font-size:29px" transform="translate(1862.0,834.3) rotate(90)" textLength="141" lengthAdjust="spacingAndGlyphs">2025-02-17</text>
<text class="ax" font-size="29" style="font-size:29px" transform="translate(1895.7,834.3) rotate(90)" textLength="141" lengthAdjust="spacingAndGlyphs">2025-02-21</text>
<text class="ax" font-size="29" style="font-size:29px" transform="translate(1929.3,834.3) rotate(90)" textLength="141" lengthAdjust="spacingAndGlyphs">2025-02-27</text>
<text class="ax" font-size="29" style="font-size:29px" transform="translate(1962.9,834.3) rotate(90)" textLength="141" lengthAdjust="spacingAndGlyphs">2025-03-05</text>
<text class="ax" font-size="29" style="font-size:29px" transform="translate(1996.5,834.3) rotate(90)" textLength="141" lengthAdjust="spacingAndGlyphs">2025-03-11</text>
<text class="ax" font-size="29" style="font-size:29px" transform="translate(2030.1,834.3) rotate(90)" textLength="141" lengthAdjust="spacingAndGlyphs">2025-03-17</text>
<text class="ax" font-size="29" style="font-size:29px" transform="translate(2063.7,834.3) rotate(90)" textLength="141" lengthAdjust="spacingAndGlyphs">2025-03-21</text>
<text class="ax" font-size="29" style="font-size:29px" transform="translate(2097.3,834.3) rotate(90)" textLength="141" lengthAdjust="spacingAndGlyphs">2025-03-27</text>
<text class="ax" font-size="29" style="font-size:29px" transform="translate(2130.9,834.3) rotate(90)" textLength="141" lengthAdjust="spacingAndGlyphs">2025-04-02</text>
<text class="ax" font-size="29" style="font-size:29px" transform="translate(2164.6,834.3) rotate(90)" textLength="141" lengthAdjust="spacingAndGlyphs">2025-04-08</text>
<text class="ax" font-size="29" style="font-size:29px" transform="translate(2198.2,834.3) rotate(90)" textLength="141" lengthAdjust="spacingAndGlyphs">2025-04-14</text>
<text class="ax" font-size="29" style="font-size:29px" transform="translate(2231.8,834.3) rotate(90)" textLength="141" lengthAdjust="spacingAndGlyphs">2025-04-21</text>
<text class="ax" font-size="29" style="font-size:29px" transform="translate(2265.4,834.3) rotate(90)" textLength="141" lengthAdjust="spacingAndGlyphs">2025-04-25</text>
<g fill="#333" font-size="43">
<text x="583" y="121.5" font-size="44" textLength="60.5" lengthAdjust="spacingAndGlyphs">ICE</text>
<text x="644.5" y="121.5" font-size="42" textLength="301" lengthAdjust="spacingAndGlyphs">油菜籽期货数据</text>
<text x="945.5" y="121.5" textLength="17" lengthAdjust="spacingAndGlyphs">-</text>
<text x="962" y="121.5" font-size="42" textLength="128" lengthAdjust="spacingAndGlyphs">合约：</text>
<text x="1090.5" y="121.5" font-size="44" textLength="105" lengthAdjust="spacingAndGlyphs">Jul25</text>
<text x="1193" y="121.5" font-size="48" textLength="42" lengthAdjust="spacingAndGlyphs">【</text>
<text x="1240" y="121.5" font-size="45.5" textLength="230.3" lengthAdjust="spacingAndGlyphs">2024-05-01</text>
<text x="1478" y="121.5" font-size="48" textLength="27" lengthAdjust="spacingAndGlyphs">~</text>
<text x="1508" y="121.5" font-size="45.5" textLength="235.8" lengthAdjust="spacingAndGlyphs">2025-04-25</text>
<text x="1749" y="121.5" font-size="48" textLength="42" lengthAdjust="spacingAndGlyphs">】</text>
</g>
<line x1="1143.5" y1="1009.5" x2="1160.5" y2="1009.5" stroke="#3b5b8c" stroke-width="4" stroke-linecap="round"/>
<text x="1171.3" y="1017" font-size="25" fill="#5a5a5a" textLength="56.5" lengthAdjust="spacingAndGlyphs">Jul25</text>
<g fill="#a3a3a3"><rect x="2253" y="80.4" width="25.7" height="3"/><rect x="2253" y="88.5" width="25.7" height="3"/><rect x="2253" y="96.4" width="25.7" height="3"/></g>
</svg></body></html>
